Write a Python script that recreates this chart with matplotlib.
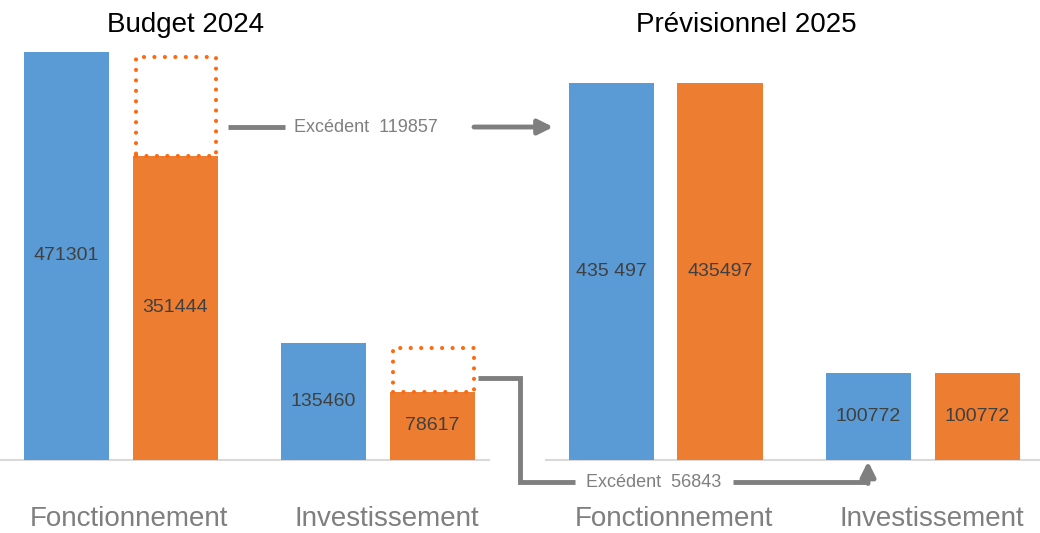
import matplotlib.pyplot as plt
from matplotlib.patches import Rectangle
import numpy as np

panels = ['Budget 2024', 'Prévisionnel 2025']
categories = ['Fonctionnement', 'Investissement']
# bleu = dépenses/recettes prévues, orange = réalisé
blue_values = [[471301, 135460], [435497, 100772]]
orange_values = [[351444, 78617], [435497, 100772]]
blue_labels = [['471301', '135460'], ['435 497', '100772']]
orange_labels = [['351444', '78617'], ['435497', '100772']]
excedents = [119857, 56843]

BLUE = '#5b9bd5'
ORANGE = '#ed7d31'
DOT = '#ff6a10'
GREY = '#7f7f7f'

fig = plt.figure(figsize=(10.4, 5.33), dpi=100)
ax = fig.add_axes([0, 0, 1, 1])
ax.set_xlim(-0.606, 8.936)
ax.set_ylim(-84300, 531300)
ax.axis('off')

panel_off = 5.0
cat_off = 2.36
width = 0.78
title_x = [1.10, 6.24]

for p in range(2):
    for c in range(2):
        xb = p * panel_off + c * cat_off
        xo = xb + 1
        ax.bar(xb, blue_values[p][c], width, color=BLUE)
        ax.bar(xo, orange_values[p][c], width, color=ORANGE)
        ax.text(xb, blue_values[p][c] / 2, blue_labels[p][c], ha='center', va='center',
                fontsize=14, color='#404040', family='Liberation Sans')
        ax.text(xo, orange_values[p][c] / 2, orange_labels[p][c], ha='center', va='center',
                fontsize=14, color='#404040', family='Liberation Sans')
        ax.text(xb + 0.58, -68000, categories[c], ha='center', va='center',
                fontsize=20, color=GREY, family='Liberation Sans')
        if p == 0:
            # excédent en pointillés
            top = blue_values[p][c] - 6000
            bot = orange_values[p][c]
            ax.add_patch(Rectangle((xo - width / 2 + 0.03, bot), width - 0.04, top - bot,
                                   fill=False, edgecolor=DOT, lw=3,
                                   linestyle=(0, (0.01, 2.5)), capstyle='round', zorder=3))
    ax.text(title_x[p], 503000, panels[p], ha='center', va='center',
            fontsize=20, color='black', family='Liberation Sans')

# lignes de base
ax.plot([-0.606, 3.88], [0, 0], color='#d9d9d9', lw=1.5, zorder=0)
ax.plot([4.40, 8.936], [0, 0], color='#d9d9d9', lw=1.5, zorder=0)

# flèche excédent fonctionnement
y1 = 384600
ax.plot([1.486, 2.009], [y1, y1], color=GREY, lw=3.5, solid_capstyle='butt')
ax.annotate('', xy=(4.47, y1), xytext=(3.743, y1),
            arrowprops=dict(arrowstyle='-|>', color=GREY, lw=3.5, mutation_scale=22,
                            shrinkA=0, shrinkB=0))
ax.text(2.752, y1, f'Excédent  {excedents[0]}', ha='center', va='center',
        fontsize=13, color=GREY, family='Liberation Sans')

# flèche excédent investissement
y2 = -25400
ax.plot([3.78, 4.165, 4.165, 4.67], [95000, 95000, y2, y2], color=GREY, lw=3.5,
        solid_joinstyle='miter', solid_capstyle='butt')
ax.plot([6.12, 7.358], [y2, y2], color=GREY, lw=3.5, solid_capstyle='butt')
ax.annotate('', xy=(7.358, -1500), xytext=(7.358, y2 - 1700),
            arrowprops=dict(arrowstyle='-|>', color=GREY, lw=3.5, mutation_scale=22,
                            shrinkA=0, shrinkB=0))
ax.text(5.394, y2, f'Excédent  {excedents[1]}', ha='center', va='center',
        fontsize=13, color=GREY, family='Liberation Sans')

fig.savefig('out.png', dpi=100)
